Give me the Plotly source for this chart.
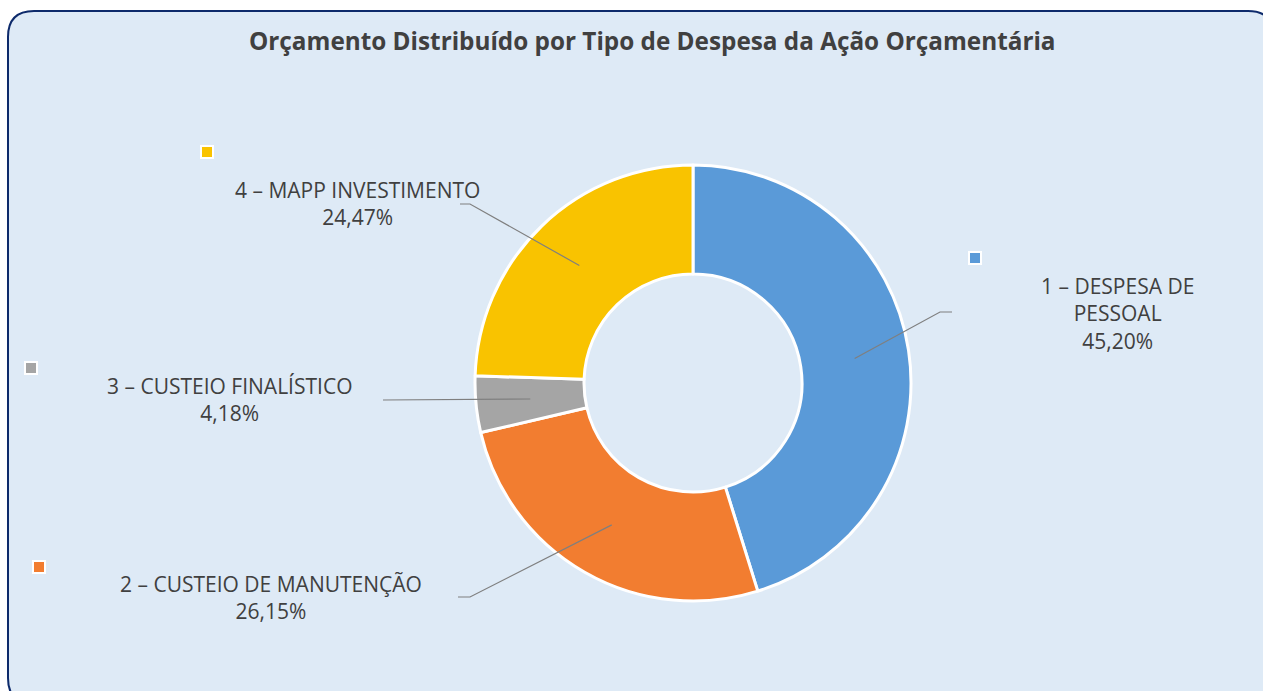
import math
import plotly.graph_objects as go

# ---------------- data ----------------
categories = ["1 – DESPESA DE PESSOAL", "2 – CUSTEIO DE MANUTENÇÃO",
              "3 – CUSTEIO FINALÍSTICO", "4 – MAPP INVESTIMENTO"]
label_lines = ["1 – DESPESA DE<br>PESSOAL", "2 – CUSTEIO DE MANUTENÇÃO",
               "3 – CUSTEIO FINALÍSTICO", "4 – MAPP INVESTIMENTO"]
values = [45.20, 26.15, 4.18, 24.47]
pct_text = ["45,20%", "26,15%", "4,18%", "24,47%"]
colors = ["#5a9ad8", "#f27d30", "#a5a5a5", "#f9c300"]

title = "Orçamento Distribuído por Tipo de Despesa da Ação Orçamentária"

# ---------------- layout helpers ----------------
W, H = 1263, 691
CX, CY, R_OUT = 693, 383, 218
HOLE = 0.5


def px(x):
    return x / W


def py(y):
    return 1 - y / H


fig = go.Figure()
fig.add_trace(go.Pie(
    labels=categories, values=values, sort=False, direction="clockwise",
    rotation=0, hole=HOLE, textinfo="none", showlegend=False,
    marker=dict(colors=colors, line=dict(color="white", width=3)),
    domain=dict(x=[px(CX - R_OUT), px(CX + R_OUT)],
                y=[py(CY + R_OUT), py(CY - R_OUT)]),
    hoverinfo="label+percent",
))

# label placement (layout): text centre, elbow point, end of horizontal leg
label_pos = [
    dict(x=1117, y=313, elbow=(940, 312), end=(952, 312), sq=(975, 258)),
    dict(x=271, y=597, elbow=(470, 597), end=(458, 597), sq=(39, 567)),
    dict(x=230, y=399, elbow=(383, 400), end=(383, 400), sq=(31, 368)),
    dict(x=357, y=204, elbow=(470, 204), end=(460, 204), sq=(207, 152)),
]

shapes = []
# background rounded panel
x0, y0, x1, y1, rr = 8, 11, 1274, 704, 26
path = (f"M {px(x0 + rr)},{py(y0)} L {px(x1 - rr)},{py(y0)} "
        f"Q {px(x1)},{py(y0)} {px(x1)},{py(y0 + rr)} "
        f"L {px(x1)},{py(y1 - rr)} Q {px(x1)},{py(y1)} {px(x1 - rr)},{py(y1)} "
        f"L {px(x0 + rr)},{py(y1)} Q {px(x0)},{py(y1)} {px(x0)},{py(y1 - rr)} "
        f"L {px(x0)},{py(y0 + rr)} Q {px(x0)},{py(y0)} {px(x0 + rr)},{py(y0)} Z")
shapes.append(dict(type="path", path=path, xref="paper", yref="paper",
                   fillcolor="#deeaf6", line=dict(color="#0d2a6b", width=2),
                   layer="below"))

total = sum(values)
cum = 0.0
annotations = [dict(text=f"<b>{title}</b>", x=px(652), y=py(40), xref="paper",
                    yref="paper", showarrow=False, xanchor="center",
                    yanchor="middle",
                    font=dict(family="Open Sans", size=24.3, color="#404040"))]
for i, v in enumerate(values):
    mid = (cum + v / 2) / total * 2 * math.pi
    cum += v
    r_mid = R_OUT * (1 + HOLE) / 2
    sx = CX + r_mid * math.sin(mid)
    sy = CY - r_mid * math.cos(mid)
    lp = label_pos[i]
    ex, ey = lp["elbow"]
    tx, ty = lp["end"]
    shapes.append(dict(type="path", xref="paper", yref="paper",
                       path=f"M {px(sx)},{py(sy)} L {px(ex)},{py(ey)} L {px(tx)},{py(ty)}",
                       line=dict(color="#7f7f7f", width=1.2)))
    # legend square
    qx, qy = lp["sq"]
    shapes.append(dict(type="rect", xref="paper", yref="paper",
                       x0=px(qx - 7), x1=px(qx + 7), y0=py(qy + 7), y1=py(qy - 7),
                       fillcolor="white", line=dict(width=0)))
    shapes.append(dict(type="rect", xref="paper", yref="paper",
                       x0=px(qx - 5), x1=px(qx + 5), y0=py(qy + 5), y1=py(qy - 5),
                       fillcolor=colors[i], line=dict(width=0)))
    annotations.append(dict(text=f"{label_lines[i]}<br>{pct_text[i]}",
                            x=px(lp["x"]), y=py(lp["y"]), xref="paper",
                            yref="paper", showarrow=False, xanchor="center",
                            yanchor="middle", align="center",
                            font=dict(family="Open Sans", size=21, color="#404040")))

fig.update_layout(width=W, height=H, margin=dict(l=0, r=0, t=0, b=0),
                  paper_bgcolor="white", plot_bgcolor="rgba(0,0,0,0)",
                  shapes=shapes, annotations=annotations)
fig.write_html("out.html", config={"displayModeBar": False},
               post_script="document.body.style.margin='0';"
                           "document.body.style.overflow='hidden';")
